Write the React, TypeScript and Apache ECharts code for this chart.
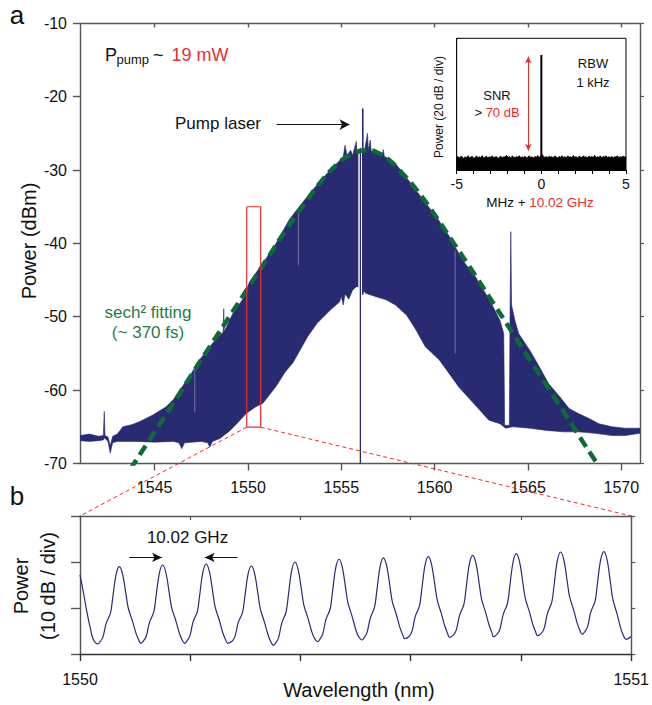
import React, { useEffect, useRef } from "react";
import * as echarts from "echarts";

// ---------- data ----------
const wavelengthTicks = [1545, 1550, 1555, 1560, 1565, 1570];

// upper envelope of the comb spectrum [nm, dBm]
const specUpper: number[][] = [
  [1541.0, -66.2], [1541.5, -66.0], [1542.0, -66.3], [1542.25, -66.2], [1542.3, -62.9], [1542.34, -66.2],
  [1542.5, -66.4], [1542.62, -67.6], [1542.75, -66.3], [1543.0, -66.0], [1543.3, -65.0], [1543.8, -64.7],
  [1544.2, -64.3], [1544.9, -63.4], [1545.6, -62.3], [1546.0, -61.3], [1546.35, -60.0], [1546.9, -58.0],
  [1547.4, -55.9], [1547.8, -54.6], [1548.1, -53.6], [1548.5, -52.5], [1548.67, -52.1], [1548.7, -48.9],
  [1548.73, -52.0], [1549.2, -49.5], [1549.7, -47.7], [1550.09, -45.2], [1550.8, -42.7], [1551.5, -40.0],
  [1552.2, -36.8], [1552.8, -34.8], [1553.7, -32.0], [1554.4, -30.0], [1554.8, -29.0], [1555.1, -28.2],
  [1555.2, -26.6], [1555.3, -28.0], [1555.5, -27.3], [1555.6, -28.0], [1555.8, -26.1], [1555.85, -27.8],
  [1556.0, -27.0], [1556.25, -27.2], [1556.4, -25.0], [1556.45, -27.3], [1556.55, -25.9], [1556.6, -27.4],
  [1556.8, -27.5], [1557.2, -28.0], [1557.25, -27.2], [1557.3, -28.1], [1557.9, -29.1], [1558.6, -31.4],
  [1559.4, -34.1], [1560.1, -36.4], [1560.8, -39.1], [1561.5, -42.3], [1562.2, -44.6], [1562.4, -45.5],
  [1562.9, -47.5], [1563.5, -50.5], [1563.7, -52.3], [1563.75, -64.8], [1564.0, -64.8], [1564.04, -48.5],
  [1564.08, -38.4], [1564.12, -48.4], [1564.3, -50.5], [1564.5, -52.3], [1565.1, -54.6], [1565.6, -56.8],
  [1566.1, -59.1], [1566.7, -60.9], [1567.2, -62.5], [1567.7, -63.2], [1568.3, -63.9], [1568.8, -64.6],
  [1569.5, -65.0], [1570.2, -65.2], [1571.0, -65.2],
];

// lower envelope of the comb spectrum [nm, dBm]
const specLower: number[][] = [
  [1541.0, -66.9], [1541.5, -67.0], [1542.0, -66.9], [1542.25, -66.8], [1542.3, -66.5], [1542.5, -67.0],
  [1542.62, -68.6], [1542.75, -67.2], [1543.0, -67.0], [1544.0, -67.0], [1545.0, -67.1], [1546.0, -67.0],
  [1546.3, -67.2], [1546.45, -68.0], [1546.6, -67.2], [1547.5, -67.0], [1547.85, -67.2], [1547.95, -67.8],
  [1548.1, -67.0], [1548.5, -66.6], [1549.0, -65.6], [1549.4, -64.6], [1549.9, -63.2], [1550.4, -62.3],
  [1550.8, -61.8], [1551.5, -59.5], [1552.0, -57.5], [1552.4, -56.3], [1552.8, -54.5], [1553.2, -52.7],
  [1553.7, -50.9], [1554.4, -49.1], [1554.9, -48.0], [1555.0, -47.2], [1555.1, -48.4], [1555.2, -46.9],
  [1555.4, -47.6], [1555.6, -46.4], [1555.8, -45.9], [1556.0, -46.0], [1556.3, -46.8], [1556.9, -47.3],
  [1557.4, -47.7], [1557.9, -48.4], [1558.5, -49.8], [1559.0, -51.8], [1559.5, -54.1], [1560.25, -55.9],
  [1561.3, -59.6], [1562.4, -62.7], [1562.9, -64.1], [1563.5, -64.6], [1563.8, -65.2], [1564.2, -65.0],
  [1565.1, -65.2], [1566.0, -65.5], [1566.9, -65.7], [1567.7, -65.7], [1568.6, -65.9], [1569.5, -66.2],
  [1570.2, -66.2], [1571.0, -65.9],
];

// sech^2 fit [nm, dBm]
const sechFit: number[][] = [
  [1543.7, -70.8], [1544, -69.6], [1545, -65.7], [1546, -61.8], [1547, -57.8], [1548, -53.9], [1549, -50.0],
  [1550, -46.1], [1551, -42.2], [1552, -38.3], [1553, -34.7], [1554, -31.3], [1555, -28.7], [1555.5, -27.9],
  [1556, -27.4], [1556.3, -27.3], [1556.5, -27.3], [1557, -27.7], [1557.5, -28.5], [1558, -29.7], [1559, -32.6],
  [1560, -36.1], [1561, -39.9], [1562, -43.7], [1563, -47.6], [1564, -51.5], [1565, -55.5], [1566, -59.4],
  [1567, -63.3], [1568, -67.3], [1568.8, -70.4],
];

// pump laser line
const pumpSpike: number[][] = [[1556.15, -47], [1556.15, -21.6]];
const pumpGap: number[][] = [[1556.03, -24.5], [1556.03, -57.5]];
const pumpDip: number[][] = [[1556.02, -27], [1556.02, -70]];
const faintGaps: number[][][] = [
  [[1561.1, -41], [1561.1, -55]],
  [[1552.7, -35.5], [1552.7, -43]],
  [[1547.15, -56.5], [1547.15, -63]],
];

// red zoom box on the main spectrum [nm, dBm]
const zoomBox: number[][] = [
  [1549.93, -35], [1550.68, -35], [1550.68, -65.06], [1549.93, -65.06], [1549.93, -35],
];

// inset: RF beat note noise floor (dB, 20 dB/div scale) from -5 to 5 MHz
const beatNoise = [
  8.6, 9.2, 8.1, 9.5, 8.8, 7.9, 9.1, 8.4, 9.8, 8.2, 8.9, 9.3, 7.8, 8.7, 9.6, 8.3, 9.0, 8.5, 9.9, 8.0,
  8.8, 9.4, 8.2, 9.1, 8.6, 9.7, 8.4, 8.9, 9.2, 7.9, 8.7, 9.5, 8.3, 9.0, 8.8, 10.1, 8.5, 9.3, 8.1, 9.6,
  8.9, 8.4, 9.2, 8.7, 9.8, 8.3, 9.0, 8.6, 9.4, 8.2, 8.8, 9.7, 8.5, 9.1, 8.0, 9.3, 8.7, 9.9, 8.4, 9.6,
  10.6,
  9.4, 8.6, 9.2, 8.3, 9.5, 8.8, 9.0, 8.4, 9.7, 8.9, 8.2, 9.3, 8.7, 9.8, 8.5, 9.1, 8.3, 9.6, 8.8, 9.0,
  8.4, 9.9, 8.6, 9.2, 8.1, 9.4, 8.9, 8.5, 9.7, 8.7, 9.0, 8.3, 9.5, 8.8, 9.2, 8.6, 10.0, 8.4, 9.1, 8.7,
  9.6, 8.3, 9.3, 8.9, 9.8, 8.5, 9.0, 8.6, 9.4, 8.2, 9.1, 8.8, 9.7, 8.4, 9.2, 8.7, 9.5, 8.9, 9.0,
];
const beatPeak: number[][] = [[0, 0], [0, 78.6]];
const snrArrow = { x: -0.77, top: 77.5, bottom: 13.2 };

// panel b: zoomed comb trace [nm offset from 1550, relative dB]
const ZOOM_START = 1550;
const zoomTrace: number[][] = [
  [0, 17.2], [0.006, 13.5], [0.012, 9.5], [0.018, 6.0], [0.024, 3.2], [0.0327, 2.17],
  [0.0366, 2.67], [0.0416, 3.68], [0.0476, 6.71], [0.0553, 8.9], [0.0594, 12.27], [0.0655, 17.32], [0.0714, 19.0],
  [0.0773, 17.33], [0.0834, 13.0], [0.0875, 10.0], [0.0952, 7.16], [0.1012, 4.66], [0.1062, 3.16], [0.11, 2.33],
  [0.1152, 2.84], [0.1202, 3.86], [0.1262, 6.93], [0.1339, 9.14], [0.138, 12.54], [0.1441, 17.65], [0.15, 19.35],
  [0.1559, 17.65], [0.162, 13.22], [0.1661, 10.16], [0.1738, 7.27], [0.1798, 4.71], [0.1848, 3.18], [0.1905, 2.33],
  [0.1942, 2.85], [0.1992, 3.88], [0.2052, 6.98], [0.2129, 9.23], [0.217, 12.67], [0.2231, 17.85], [0.229, 19.57],
  [0.2349, 17.85], [0.241, 13.36], [0.2451, 10.26], [0.2528, 7.33], [0.2588, 4.74], [0.2638, 3.19], [0.268, 2.33],
  [0.2762, 2.83], [0.2812, 3.84], [0.2872, 6.87], [0.2949, 9.05], [0.299, 12.41], [0.3051, 17.45], [0.311, 19.13],
  [0.3169, 17.41], [0.323, 12.92], [0.3271, 9.82], [0.3348, 6.89], [0.3408, 4.3], [0.3458, 2.75], [0.351, 1.89],
  [0.3552, 2.43], [0.3602, 3.52], [0.3662, 6.78], [0.3739, 9.13], [0.378, 12.76], [0.3841, 18.19], [0.39, 20.0],
  [0.3959, 18.27], [0.402, 13.76], [0.4061, 10.64], [0.4138, 7.7], [0.4198, 5.1], [0.4248, 3.54], [0.4316, 2.67],
  [0.4352, 3.21], [0.4402, 4.28], [0.4462, 7.51], [0.4539, 9.84], [0.458, 13.43], [0.4641, 18.81], [0.47, 20.6],
  [0.4759, 18.84], [0.482, 14.28], [0.4861, 11.12], [0.4938, 8.13], [0.4998, 5.5], [0.5048, 3.92], [0.512, 3.04],
  [0.5157, 3.58], [0.5207, 4.65], [0.5267, 7.86], [0.5344, 10.18], [0.5385, 13.76], [0.5446, 19.11], [0.5505, 20.9],
  [0.5564, 19.14], [0.5625, 14.57], [0.5666, 11.41], [0.5743, 8.43], [0.5803, 5.79], [0.5853, 4.21], [0.589, 3.33],
  [0.5972, 3.86], [0.6022, 4.93], [0.6082, 8.14], [0.6159, 10.46], [0.62, 14.02], [0.6261, 19.37], [0.632, 21.15],
  [0.6379, 19.4], [0.644, 14.84], [0.6481, 11.69], [0.6558, 8.71], [0.6618, 6.08], [0.6668, 4.51], [0.67, 3.63],
  [0.6777, 4.16], [0.6827, 5.23], [0.6887, 8.44], [0.6964, 10.76], [0.7005, 14.33], [0.7066, 19.68], [0.7125, 21.46],
  [0.7184, 19.69], [0.7245, 15.09], [0.7286, 11.9], [0.7363, 8.89], [0.7423, 6.24], [0.7473, 4.65], [0.75, 3.76],
  [0.7568, 4.3], [0.7618, 5.38], [0.7678, 8.63], [0.7755, 10.98], [0.7796, 14.58], [0.7857, 20.0], [0.7916, 21.8],
  [0.7975, 20.02], [0.8036, 15.38], [0.8077, 12.18], [0.8154, 9.15], [0.8214, 6.47], [0.8264, 4.87], [0.83, 3.98],
  [0.8372, 4.53], [0.8422, 5.62], [0.8482, 8.89], [0.8559, 11.26], [0.86, 14.89], [0.8661, 20.35], [0.872, 22.17],
  [0.8779, 20.38], [0.884, 15.73], [0.8881, 12.51], [0.8958, 9.47], [0.9018, 6.78], [0.9068, 5.17], [0.911, 4.28],
  [0.9157, 4.82], [0.9207, 5.9], [0.9267, 9.13], [0.9344, 11.46], [0.9385, 15.06], [0.9446, 20.44], [0.9505, 22.24],
  [0.9564, 20.34], [0.9625, 15.39], [0.9666, 11.96], [0.9743, 8.72], [0.9803, 5.87], [0.9853, 4.15], [0.991, 3.2],
  [1.0, 3.8],
];
const spacingArrows = {
  level: 21.0,
  left: [1550.0893, 1550.1488],
  right: [1550.2857, 1550.2262],
};
const pumpArrow = { y: -23.8, from: 1551.53, to: 1555.44 };

// ---------- styles ----------
const NAVY = "#282b72";
const RED = "#ec2d2d";
const GREEN_LINE = "#0d6b38";
const GREEN_TEXT = "#1f7c47";
const AX = "#555";
const TXT = "#111";
const FONT = '"Liberation Sans", Arial, Helvetica, sans-serif';

function vline(data: number[][], color: string, width: number, z: number, opacity = 1, xi = 0, yi = 0) {
  return {
    type: "line", xAxisIndex: xi, yAxisIndex: yi, data, symbol: "none", silent: true, z,
    lineStyle: { color, width, opacity }, animation: false,
  };
}

function buildOption(): any {
  const tickLabel = { color: TXT, fontSize: 16, fontFamily: FONT };
  const noiseData = beatNoise.map((v, i) => [-5 + (i * 10) / (beatNoise.length - 1), v]);
  return {
    animation: false,
    backgroundColor: "#fff",
    textStyle: { fontFamily: FONT },
    grid: [
      { left: 80, top: 23.4, width: 560, height: 440, containLabel: false },
      { left: 456.7, top: 38.3, width: 169.3, height: 131.7, show: true, borderColor: "#000", borderWidth: 1, backgroundColor: "#fff", z: 5 },
      { left: 80, top: 516, width: 560, height: 138 },
    ],
    xAxis: [
      {
        type: "value", gridIndex: 0, min: 1541, max: 1571,
        axisLine: { onZero: false, lineStyle: { color: AX, width: 1.4 } },
        axisTick: { show: true, customValues: wavelengthTicks, length: 7, lineStyle: { color: AX, width: 1.4 } },
        axisLabel: { ...tickLabel, customValues: wavelengthTicks, margin: 16, formatter: (v: number) => String(Math.round(v)) },
        splitLine: { show: false },
      },
      {
        type: "value", gridIndex: 0, position: "top", min: 1541, max: 1571,
        axisLine: { onZero: false, lineStyle: { color: AX, width: 1.4 } },
        axisTick: { show: true, customValues: wavelengthTicks, length: 4, inside: true, lineStyle: { color: AX, width: 1.4 } },
        axisLabel: { show: false }, splitLine: { show: false },
      },
      {
        type: "value", gridIndex: 1, min: -5, max: 5, interval: 5,
        axisLine: { onZero: false, lineStyle: { color: "#000", width: 1 } },
        axisTick: { show: true, length: 4, lineStyle: { color: "#000" } },
        minorTick: { show: true, splitNumber: 5, length: 4, lineStyle: { color: "#000" } },
        axisLabel: { color: TXT, fontSize: 14, fontFamily: FONT, margin: 7 },
        splitLine: { show: false }, minorSplitLine: { show: false },
      },
      {
        type: "value", gridIndex: 2, min: 1550, max: 1551, interval: 0.2,
        axisLine: { onZero: false, lineStyle: { color: "#333", width: 1.4 } },
        axisTick: { show: true, length: 7, lineStyle: { color: "#333", width: 1.4 } },
        axisLabel: {
          ...tickLabel, margin: 17, showMinLabel: true, showMaxLabel: true,
          formatter: (v: number) => (Math.abs(v - 1550) < 1e-6 ? "1550" : Math.abs(v - 1551) < 1e-6 ? "1551" : ""),
        },
        splitLine: { show: false },
      },
      {
        type: "value", gridIndex: 2, position: "top", min: 1550, max: 1551, interval: 0.2,
        axisLine: { onZero: false, lineStyle: { color: AX, width: 1.4 } },
        axisTick: { show: true, length: 4, inside: true, lineStyle: { color: AX, width: 1.2 } },
        axisLabel: { show: false }, splitLine: { show: false },
      },
    ],
    yAxis: [
      {
        type: "value", gridIndex: 0, min: -70, max: -10, interval: 10,
        axisLine: { show: true, onZero: false, lineStyle: { color: AX, width: 1.4 } },
        axisTick: { show: true, length: 7, lineStyle: { color: AX, width: 1.4 } },
        axisLabel: { ...tickLabel, margin: 13 },
        splitLine: { show: false },
      },
      {
        type: "value", gridIndex: 0, position: "right", min: -70, max: -10, interval: 10,
        axisLine: { show: true, onZero: false, lineStyle: { color: AX, width: 1.4 } },
        axisTick: { show: true, length: 4, lineStyle: { color: AX, width: 1.2 } },
        axisLabel: { show: false }, splitLine: { show: false },
      },
      {
        type: "value", gridIndex: 1, min: 0, max: 90, interval: 20,
        axisLine: { show: true, onZero: false, lineStyle: { color: "#000", width: 1 } },
        axisTick: { show: true, inside: true, length: 4, lineStyle: { color: "#000" } },
        axisLabel: { show: false }, splitLine: { show: false },
      },
      {
        type: "value", gridIndex: 2, min: 0, max: 30, interval: 10,
        axisLine: { show: true, onZero: false, lineStyle: { color: AX, width: 1.4 } },
        axisTick: { show: true, length: 9, lineStyle: { color: AX, width: 1.4 } },
        axisLabel: { show: false }, splitLine: { show: false },
      },
      {
        type: "value", gridIndex: 2, position: "right", min: 0, max: 30, interval: 10,
        axisLine: { show: true, onZero: false, lineStyle: { color: AX, width: 1.4 } },
        axisTick: { show: true, length: 4, lineStyle: { color: AX, width: 1.2 } },
        axisLabel: { show: false }, splitLine: { show: false },
      },
    ],
    series: [
      {
        type: "custom", xAxisIndex: 0, yAxisIndex: 0, data: [[1556, -40]], z: 2, silent: true, clip: true,
        renderItem: (_p: any, api: any) => {
          const pts = specUpper.map((p) => api.coord(p)).concat(
            specLower.slice().reverse().map((p) => api.coord(p))
          );
          return { type: "polygon", shape: { points: pts }, style: { fill: NAVY, stroke: NAVY, lineWidth: 0.6 } };
        },
      },
      ...faintGaps.map((g) => vline(g, "#ffffff", 1, 3, 0.35)),
      vline(pumpGap, "#ffffff", 4.5, 3),
      vline(pumpDip, NAVY, 1.3, 3),
      vline(pumpSpike, NAVY, 1.6, 3),
      {
        type: "line", xAxisIndex: 0, yAxisIndex: 0, data: sechFit, symbol: "none", smooth: true, z: 4, silent: true,
        lineStyle: { color: GREEN_LINE, width: 4.5, type: [11, 6] },
        markLine: {
          silent: true, symbol: ["none", "arrow"], symbolSize: [8, 10], animation: false,
          label: { show: false }, lineStyle: { color: "#111", width: 1, type: "solid" },
          data: [[{ coord: [pumpArrow.from, pumpArrow.y] }, { coord: [pumpArrow.to, pumpArrow.y] }]],
        },
      },
      vline(zoomBox, RED, 1.2, 5),
      {
        type: "line", xAxisIndex: 2, yAxisIndex: 2, data: noiseData, symbol: "none", z: 6, silent: true,
        lineStyle: { color: "#000", width: 0.8 }, areaStyle: { color: "#000", opacity: 1 },
      },
      {
        type: "line", xAxisIndex: 2, yAxisIndex: 2, data: beatPeak, symbol: "none", z: 6, silent: true,
        lineStyle: { color: "#000", width: 2 },
        markLine: {
          silent: true, symbol: ["arrow", "arrow"], symbolSize: [5, 7], animation: false,
          label: { show: false }, lineStyle: { color: RED, width: 1, type: "solid" },
          data: [[{ coord: [snrArrow.x, snrArrow.top] }, { coord: [snrArrow.x, snrArrow.bottom] }]],
        },
      },
      {
        type: "line", xAxisIndex: 3, yAxisIndex: 3, symbol: "none", smooth: 0.35, z: 3, silent: true,
        data: zoomTrace.map(([o, v]) => [ZOOM_START + o, v]),
        lineStyle: { color: NAVY, width: 1.2 },
        markLine: {
          silent: true, symbol: ["none", "arrow"], symbolSize: [7, 10], animation: false,
          label: { show: false }, lineStyle: { color: "#111", width: 1, type: "solid" },
          data: [
            [{ coord: [spacingArrows.left[0], spacingArrows.level] }, { coord: [spacingArrows.left[1], spacingArrows.level] }],
            [{ coord: [spacingArrows.right[0], spacingArrows.level] }, { coord: [spacingArrows.right[1], spacingArrows.level] }],
          ],
        },
      },
    ],
  };
}

function txt(id: string, x: number, y: number, text: string, size: number, color = TXT, extra: any = {}, align = "center") {
  return {
    type: "text", id, x, y, z: 20, silent: true, ...extra,
    style: { text, fontSize: size, fontFamily: FONT, fill: color, textAlign: align, textVerticalAlign: "middle" },
  };
}

export default function App() {
  const ref = useRef<HTMLDivElement>(null);
  useEffect(() => {
    const chart = echarts.init(ref.current!, undefined, { renderer: "svg" });
    chart.setOption(buildOption());
    const px = (xi: number, yi: number, v: number[]) =>
      chart.convertToPixel({ xAxisIndex: xi, yAxisIndex: yi } as any, v) as unknown as number[];
    const boxBL = px(0, 0, [zoomBox[3][0], zoomBox[3][1]]);
    const boxBR = px(0, 0, [zoomBox[2][0], zoomBox[2][1]]);
    const bTL = px(3, 3, [1550, 30]);
    const bTR = px(3, 3, [1551, 30]);
    const dashed = { stroke: RED, lineWidth: 1, lineDash: [4, 3] };
    const rot = { rotation: Math.PI / 2 };
    const graphic: any[] = [
      { type: "line", id: "c1", z: 15, silent: true, shape: { x1: boxBL[0], y1: boxBL[1], x2: bTL[0], y2: bTL[1] }, style: dashed },
      { type: "line", id: "c2", z: 15, silent: true, shape: { x1: boxBR[0], y1: boxBR[1], x2: bTR[0], y2: bTR[1] }, style: dashed },
      txt("ta", 17, 15, "a", 26),
      txt("tb", 17, 496, "b", 26),
      txt("pp1", 105, 55, "P", 18, TXT, {}, "left"),
      txt("pp2", 116.5, 59, "pump", 13, TXT, {}, "left"),
      txt("pp3", 153, 55, "~", 18, TXT, {}, "left"),
      txt("pp4", 171.5, 55, "19 mW", 18, RED, {}, "left"),
      txt("pl", 218, 123, "Pump laser", 17),
      txt("s1", 148, 312, "sech\u00b2 fitting", 17, GREEN_TEXT),
      txt("s2", 148, 332.5, "(~ 370 fs)", 17, GREEN_TEXT),
      txt("yl", 29, 241, "Power (dBm)", 20, TXT, rot),
      txt("ip", 439, 107, "Power (20 dB / div)", 12, TXT, rot),
      txt("snr", 497, 95, "SNR", 13),
      {
        type: "text", id: "snr2", x: 497, y: 112, z: 20, silent: true,
        style: {
          text: "{k|> }{r|70 dB}", fontSize: 13, fontFamily: FONT, textAlign: "center", textVerticalAlign: "middle",
          rich: { k: { fill: TXT, fontSize: 13, fontFamily: FONT }, r: { fill: RED, fontSize: 13, fontFamily: FONT } },
        },
      },
      txt("rbw", 593, 63, "RBW", 13),
      txt("rbw2", 593, 82, "1 kHz", 13),
      {
        type: "text", id: "ix", x: 540, y: 202, z: 20, silent: true,
        style: {
          text: "{k|MHz + }{r|10.02 GHz}", fontSize: 13.5, fontFamily: FONT, textAlign: "center", textVerticalAlign: "middle",
          rich: { k: { fill: TXT, fontSize: 13.5, fontFamily: FONT }, r: { fill: RED, fontSize: 13.5, fontFamily: FONT } },
        },
      },
      txt("bp1", 21, 586, "Power", 20, TXT, rot),
      txt("bp2", 48, 586, "(10 dB / div)", 20, TXT, rot),
      txt("gh", 187.5, 537, "10.02 GHz", 17),
      txt("wl", 359, 690, "Wavelength (nm)", 20),
    ];
    chart.setOption({ graphic });
    return () => chart.dispose();
  }, []);
  return (
    <div
      ref={ref}
      style={{ position: "fixed", left: 0, top: 0, width: 652, height: 705, background: "#fff" }}
    />
  );
}
